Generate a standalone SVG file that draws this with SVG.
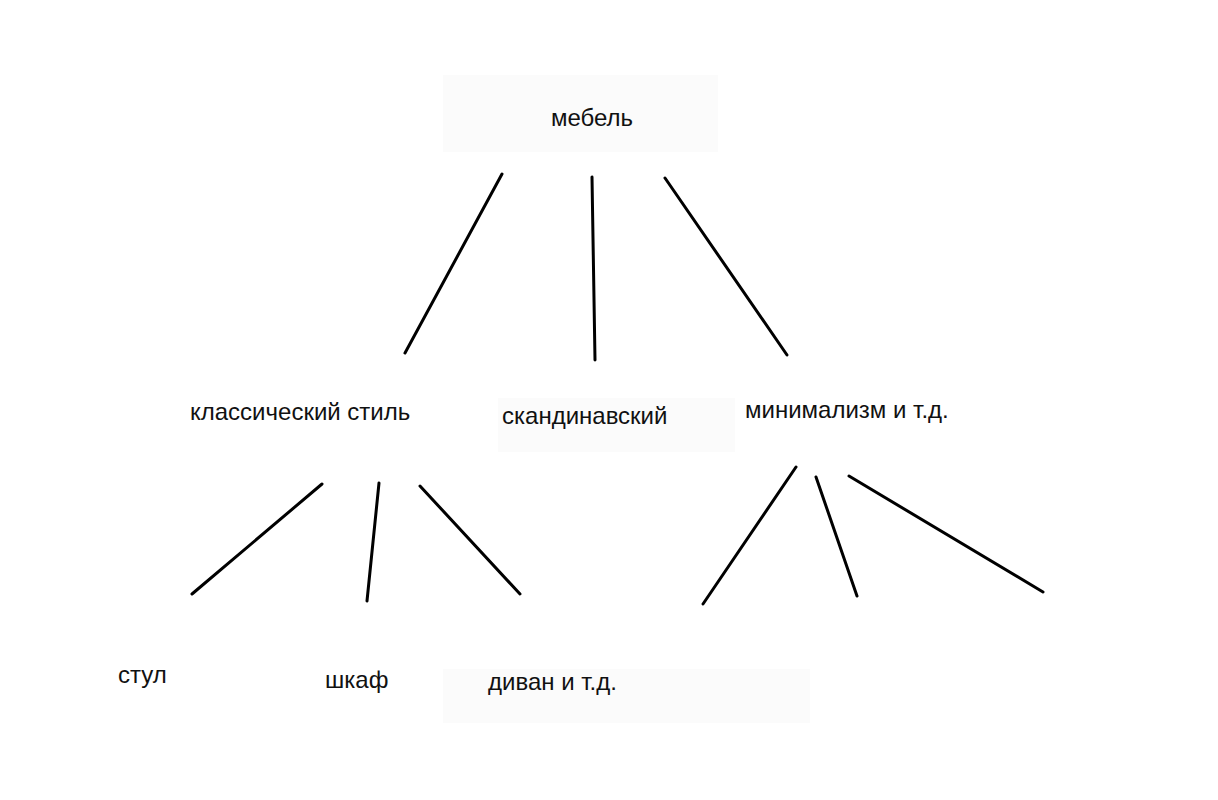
<svg xmlns="http://www.w3.org/2000/svg" width="1218" height="800" viewBox="0 0 1218 800">
<style>
.bg{fill:#fbfbfb;stroke:none}
.t{font-family:"Liberation Sans",Arial,sans-serif;font-size:24px;fill:#111}
.c line{stroke:#000;stroke-width:3;stroke-linecap:round}
</style>
<rect width="1218" height="800" fill="#fff"/>
<g id="n-mebel"><rect class="bg" x="443" y="75" width="275" height="77"/><text class="t" x="551" y="126">мебель</text></g>
<g id="n-classic"><text class="t" x="190" y="420">классический стиль</text></g>
<g id="n-scand"><rect class="bg" x="498" y="398" width="237" height="54"/><text class="t" x="502" y="424">скандинавский</text></g>
<g id="n-minimal"><text class="t" x="745" y="418">минимализм и т.д.</text></g>
<g id="n-stul"><text class="t" x="118" y="683">стул</text></g>
<g id="n-shkaf"><text class="t" x="325" y="688">шкаф</text></g>
<g id="n-divan"><rect class="bg" x="443" y="669" width="367" height="54"/><text class="t" x="488" y="690">диван и т.д.</text></g>
<g class="c" id="connectors">
<line x1="502" y1="174" x2="405" y2="353"/>
<line x1="592" y1="177" x2="595" y2="360"/>
<line x1="665" y1="178" x2="787" y2="355"/>
<line x1="322" y1="484" x2="192" y2="594"/>
<line x1="379" y1="483" x2="367" y2="601"/>
<line x1="420" y1="486" x2="520" y2="594"/>
<line x1="796" y1="467" x2="703" y2="604"/>
<line x1="816" y1="477" x2="857" y2="596"/>
<line x1="849" y1="476" x2="1043" y2="592"/>
</g>
</svg>
